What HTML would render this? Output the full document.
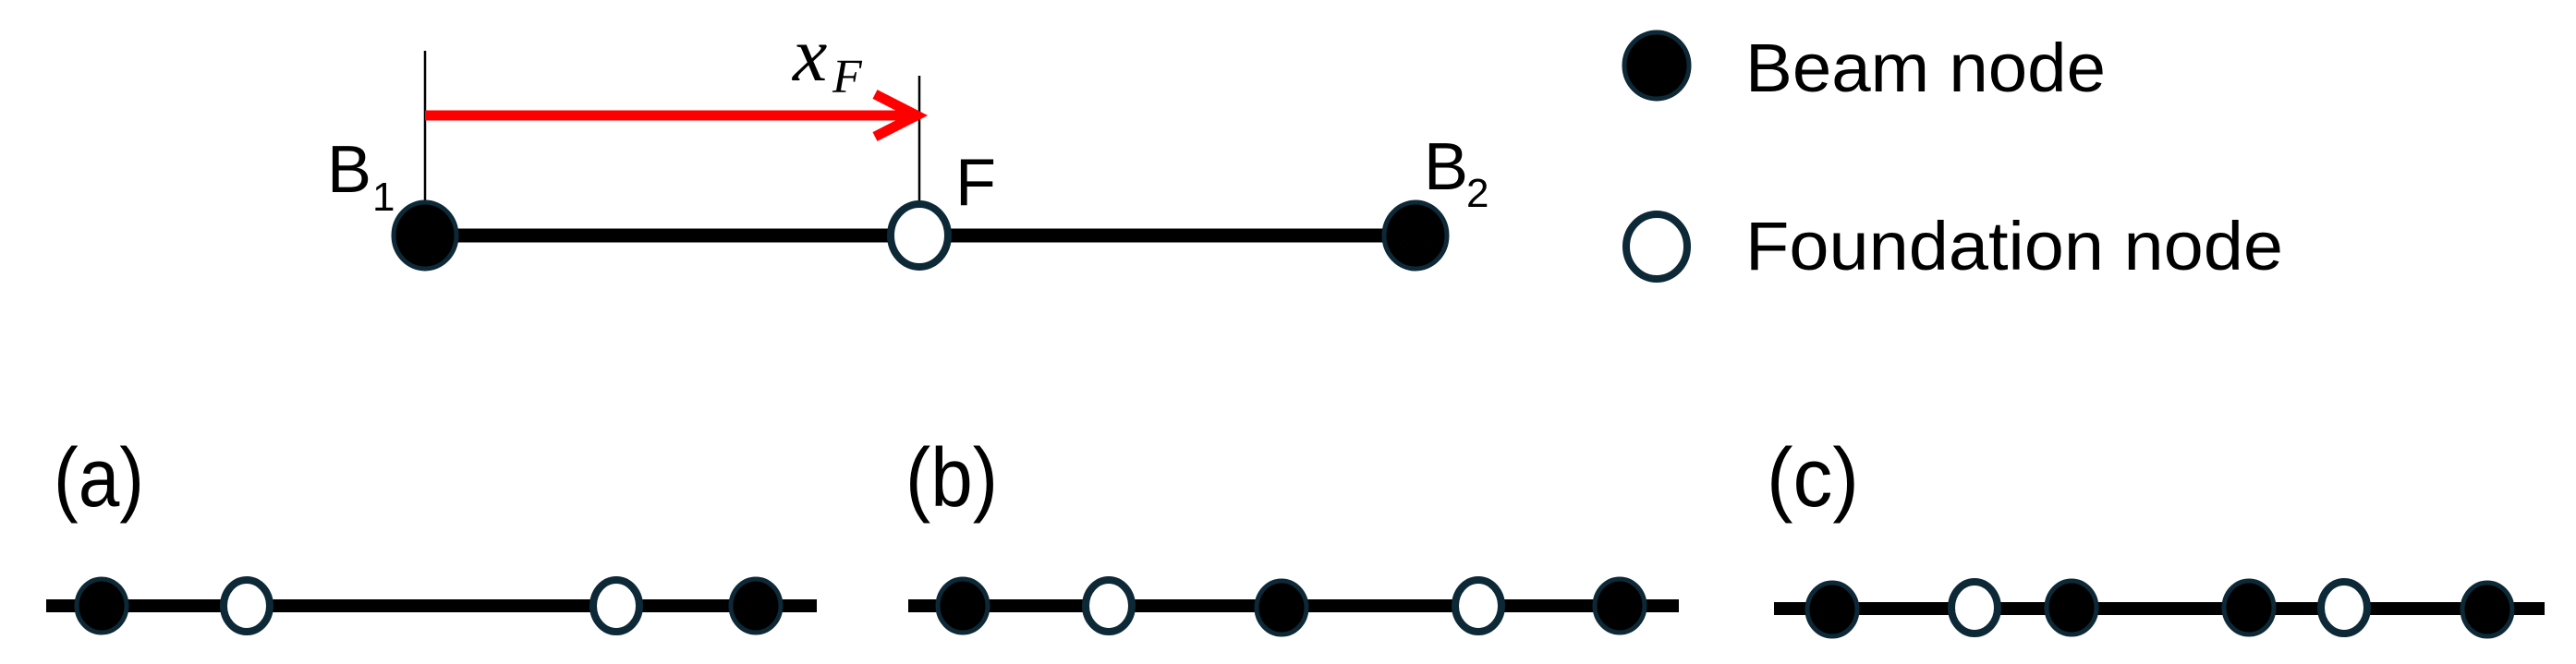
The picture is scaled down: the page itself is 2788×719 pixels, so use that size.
<!DOCTYPE html>
<html><head><meta charset="utf-8"><style>
html,body{margin:0;padding:0;background:#fff;}
svg{display:block;}
text{font-family:"Liberation Sans",sans-serif;fill:#000;}
</style></head><body>
<svg width="2788" height="719" viewBox="0 0 2788 719" xmlns="http://www.w3.org/2000/svg">
<defs>
<g id="bn"><ellipse cx="0" cy="0" rx="27" ry="29" fill="#000" stroke="#0d2836" stroke-width="5"/></g>
<g id="fn"><ellipse cx="0" cy="0" rx="25" ry="28" fill="#fff" stroke="#0d2836" stroke-width="8"/></g>
</defs>
<line x1="460" y1="55" x2="460" y2="220" stroke="#000" stroke-width="2.5"/>
<line x1="995" y1="82" x2="995" y2="220" stroke="#000" stroke-width="2.5"/>
<line x1="460" y1="255" x2="1532" y2="255" stroke="#000" stroke-width="15"/>
<line x1="460" y1="125" x2="990" y2="125" stroke="#f00" stroke-width="11"/>
<polyline points="947,102 992,125 947,148" fill="none" stroke="#f00" stroke-width="11" stroke-linejoin="miter"/>
<ellipse cx="460" cy="255" rx="34" ry="36" fill="#000" stroke="#0d2836" stroke-width="5"/>
<ellipse cx="995" cy="255" rx="31" ry="34" fill="#fff" stroke="#0d2836" stroke-width="8"/>
<ellipse cx="1532" cy="255" rx="34" ry="36" fill="#000" stroke="#0d2836" stroke-width="5"/>
<text x="858" y="87" font-style="italic" font-size="84" style="font-family:'Liberation Serif',serif">x</text>
<text x="901" y="100" font-style="italic" font-size="52" style="font-family:'Liberation Serif',serif">F</text>
<text x="354" y="208" font-size="72">B</text>
<text x="403" y="228" font-size="44">1</text>
<text x="1034" y="222" font-size="72">F</text>
<text x="1541" y="205" font-size="72">B</text>
<text x="1587" y="224" font-size="44">2</text>
<ellipse cx="1793" cy="71" rx="35" ry="36" fill="#000" stroke="#0d2836" stroke-width="5"/>
<ellipse cx="1793" cy="267" rx="33" ry="35" fill="#fff" stroke="#0d2836" stroke-width="8"/>
<text x="1889" y="99" font-size="74" textLength="390" lengthAdjust="spacingAndGlyphs">Beam node</text>
<text x="1889" y="292" font-size="74" textLength="582" lengthAdjust="spacingAndGlyphs">Foundation node</text>
<text x="58" y="548" font-size="90" textLength="98" lengthAdjust="spacingAndGlyphs">(a)</text>
<text x="980" y="548" font-size="90" textLength="100" lengthAdjust="spacingAndGlyphs">(b)</text>
<text x="1912" y="548" font-size="90" textLength="100" lengthAdjust="spacingAndGlyphs">(c)</text>
<line x1="50" y1="656" x2="884" y2="656" stroke="#000" stroke-width="14"/>
<use href="#bn" x="110" y="656"/><use href="#fn" x="267" y="656"/><use href="#fn" x="667" y="656"/><use href="#bn" x="818" y="656"/>
<line x1="983" y1="656" x2="1817" y2="656" stroke="#000" stroke-width="14"/>
<use href="#bn" x="1042" y="656"/><use href="#fn" x="1200" y="656"/><use href="#bn" x="1387" y="658"/><use href="#fn" x="1600" y="656"/><use href="#bn" x="1753" y="656"/>
<line x1="1920" y1="659" x2="2754" y2="659" stroke="#000" stroke-width="14"/>
<use href="#bn" x="1983" y="660"/><use href="#fn" x="2137" y="658"/><use href="#bn" x="2242" y="658"/><use href="#bn" x="2434" y="658"/><use href="#fn" x="2537" y="658"/><use href="#bn" x="2692" y="660"/>
</svg>
</body></html>
